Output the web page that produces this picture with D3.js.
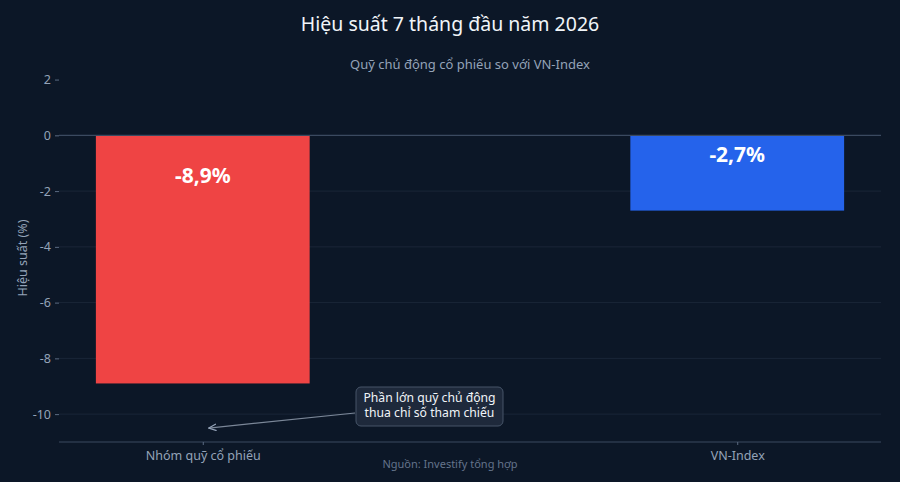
<!DOCTYPE html>
<html>
<head>
<meta charset="utf-8">
<script src="https://cdn.jsdelivr.net/npm/d3@7"></script>
<style>
  html, body { margin: 0; padding: 0; background: #0c1727; }
  svg { display: block; font-family: "Noto Sans", "Open Sans", sans-serif; }
</style>
</head>
<body>
<div id="chart"></div>
<script>
// data
const categories = ["Nhóm quỹ cổ phiếu", "VN-Index"]
const values = [-8.9, -2.7]
const barColors = ["#ef4444", "#2563eb"]
const yTicks = [2, 0, -2, -4, -6, -8, -10]
const annotationLines = ["Phần lớn quỹ chủ động", "thua chỉ số tham chiếu"]

const width = 900
const height = 482
const margin = {top: 74, right: 19, bottom: 40, left: 59}

// hyphen minus, comma decimal like the reference
const locale = d3.formatLocale({decimal: ",", thousands: ".", grouping: [3], currency: ["", ""], minus: "-"})
const fmtPct = v => locale.format(".1f")(v) + "%"
const fmtTick = locale.format("d")

const svg = d3.select("#chart").append("svg")
    .attr("width", width)
    .attr("height", height)
    .style("background", "#0c1727")

const x = d3.scalePoint()
    .domain(categories)
    .range([margin.left, width - margin.right])
    .padding(0.269)

const y = d3.scaleLinear()
    .domain([-11, 2.2])
    .range([height - margin.bottom, margin.top])

const barW = x.step() * 0.4
const plotMid = (margin.left + width - margin.right) / 2

// grid
svg.append("g")
    .selectAll("line")
    .data(yTicks.filter(d => d !== 0 && d !== 2))
    .join("line")
    .attr("x1", margin.left)
    .attr("x2", width - margin.right)
    .attr("y1", d => y(d))
    .attr("y2", d => y(d))
    .attr("stroke", "#1a2638")
    .attr("stroke-width", 1)

// y axis
const yAxis = svg.append("g")
    .attr("transform", `translate(${margin.left},0)`)
    .call(d3.axisLeft(y).tickValues(yTicks).tickFormat(fmtTick).tickSize(4).tickPadding(4))
yAxis.select(".domain").remove()
yAxis.selectAll("line").attr("stroke", "#5b6b82")
yAxis.selectAll("text")
    .attr("fill", "#94a3b8")
    .style("font-size", "12.5px")
    .style("font-family", "Noto Sans")

// bars
svg.append("g")
    .selectAll("rect")
    .data(values)
    .join("rect")
    .attr("x", (d, i) => x(categories[i]) - barW / 2)
    .attr("y", d => y(Math.max(0, d)))
    .attr("width", barW)
    .attr("height", d => Math.abs(y(d) - y(0)))
    .attr("fill", (d, i) => barColors[i])

// zero line
svg.append("line")
    .attr("x1", margin.left)
    .attr("x2", width - margin.right)
    .attr("y1", y(0))
    .attr("y2", y(0))
    .attr("stroke", "#3b4a60")
    .attr("stroke-width", 1.2)

// bar labels
svg.append("g")
    .selectAll("text")
    .data(values)
    .join("text")
    .attr("x", (d, i) => x(categories[i]))
    .attr("y", d => y(0) + Math.min(40, (y(d) - y(0)) / 4))
    .attr("dy", "0.35em")
    .attr("text-anchor", "middle")
    .attr("fill", "#ffffff")
    .style("font-size", "21px")
    .style("font-weight", "bold")
    .text(d => fmtPct(d))

// x axis
const xAxis = svg.append("g")
    .attr("transform", `translate(0,${height - margin.bottom})`)
    .call(d3.axisBottom(x).tickSize(3).tickPadding(6).tickSizeOuter(0))
xAxis.select(".domain")
    .attr("stroke", "#3b4a60")
    .attr("d", `M${margin.left},0H${width - margin.right}`)
xAxis.selectAll("line").attr("stroke", "#5b6b82")
xAxis.selectAll("text")
    .attr("fill", "#94a3b8")
    .style("font-size", "12.5px")
    .style("font-family", "Noto Sans")

// titles
svg.append("text")
    .attr("x", width / 2).attr("y", 31)
    .attr("text-anchor", "middle")
    .attr("fill", "#f1f5f9")
    .style("font-size", "19.5px")
    .text("Hiệu suất 7 tháng đầu năm 2026")

svg.append("text")
    .attr("x", plotMid).attr("y", 69)
    .attr("text-anchor", "middle")
    .attr("fill", "#94a3b8")
    .style("font-size", "13px")
    .text("Quỹ chủ động cổ phiếu so với VN-Index")

svg.append("text")
    .attr("transform", `translate(27,${(y(2.2) + y(-11)) / 2}) rotate(-90)`)
    .attr("text-anchor", "middle")
    .attr("fill", "#94a3b8")
    .style("font-size", "12.5px")
    .text("Hiệu suất (%)")

svg.append("text")
    .attr("x", width / 2).attr("y", 468)
    .attr("text-anchor", "middle")
    .attr("fill", "#64748b")
    .style("font-size", "11px")
    .text("Nguồn: Investify tổng hợp")

// annotation
const defs = svg.append("defs")
defs.append("marker")
    .attr("id", "arr")
    .attr("viewBox", "0 0 10 10")
    .attr("refX", 9).attr("refY", 5)
    .attr("markerWidth", 7).attr("markerHeight", 7)
    .attr("orient", "auto")
    .append("path")
    .attr("d", "M0,1L9,5L0,9")
    .attr("fill", "none")
    .attr("stroke", "#94a3b8")
    .attr("stroke-width", 1.3)

const arrowTip = [x(categories[0]) + 6, y(-10.5)]
const boxX = 356, boxY = 387, boxW = 147, boxH = 39

svg.append("line")
    .attr("x1", boxX - 1).attr("y1", boxY + 26)
    .attr("x2", arrowTip[0]).attr("y2", arrowTip[1])
    .attr("stroke", "#7b8798")
    .attr("stroke-width", 1.2)
    .attr("marker-end", "url(#arr)")

svg.append("rect")
    .attr("x", boxX).attr("y", boxY)
    .attr("width", boxW).attr("height", boxH)
    .attr("rx", 5)
    .attr("fill", "#1e293b")
    .attr("stroke", "#475569")
    .attr("stroke-width", 1)

svg.append("g")
    .selectAll("text")
    .data(annotationLines)
    .join("text")
    .attr("x", boxX + boxW / 2)
    .attr("y", (d, i) => boxY + 15 + i * 15)
    .attr("text-anchor", "middle")
    .attr("fill", "#f1f5f9")
    .style("font-size", "12.2px")
    .text(d => d)
</script>
</body>
</html>
